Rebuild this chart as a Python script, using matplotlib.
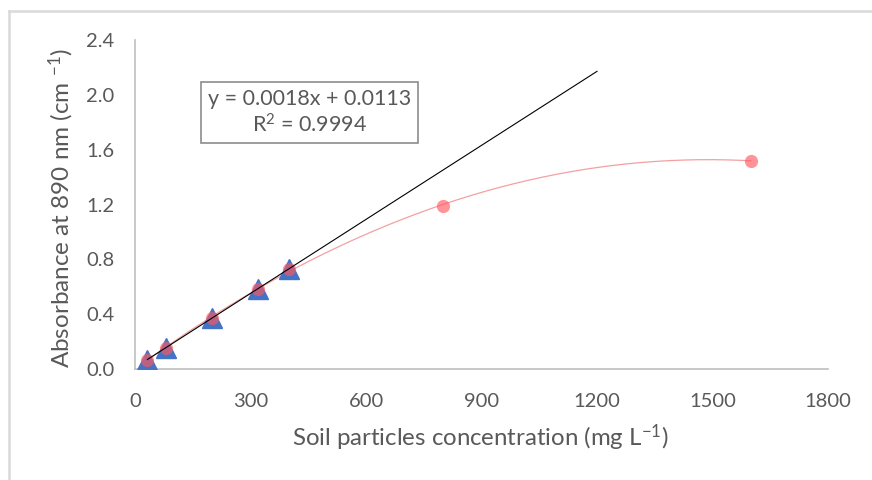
import numpy as np
import matplotlib
matplotlib.use("Agg")
import matplotlib.pyplot as plt
from matplotlib.lines import Line2D

plt.rcParams['font.family'] = ['Lato', 'DejaVu Sans']
plt.rcParams['mathtext.default'] = 'regular'

# Data
conc_lin = [32, 80, 200, 320, 400]
abs_lin = [0.069, 0.155, 0.371, 0.587, 0.731]
conc_all = [32, 80, 200, 320, 400, 800, 1600]
abs_all = [0.069, 0.155, 0.371, 0.587, 0.731, 1.19, 1.52]
slope, intercept = 0.0018, 0.0113
trend_end = 1200
xticks = [0, 300, 600, 900, 1200, 1500, 1800]
yticks = [0.0, 0.4, 0.8, 1.2, 1.6, 2.0, 2.4]

txt = '#595959'
fig = plt.figure(figsize=(8.72, 4.80), dpi=100)
# Chart frame
fig.add_artist(Line2D([8.5/872, 8.5/872], [0, 1 - 10.5/480], color='#d9d9d9', lw=1.8, transform=fig.transFigure))
fig.add_artist(Line2D([8.5/872, 1], [1 - 10.5/480, 1 - 10.5/480], color='#d9d9d9', lw=1.8, transform=fig.transFigure))

ax = fig.add_axes([135/872, 1 - 369/480, 693/872, 329/480])

# Polynomial trendline (red)
coef = np.polyfit(conc_all, abs_all, 2)
xc = np.linspace(min(conc_all), max(conc_all), 300)
ax.plot(xc, np.polyval(coef, xc), color='#f4a0a2', lw=0.9, zorder=2)

# Blue triangles
ax.plot(conc_lin, abs_lin, linestyle='none', marker='^', ms=15, color='#4472c4', zorder=3)
# Red circles
ax.plot(conc_all, abs_all, linestyle='none', marker='o', ms=9.5, color=(1.0, 0.35, 0.38), alpha=0.65, mec='none', zorder=4)

# Linear trendline
xl = np.array([min(conc_lin), trend_end])
ax.plot(xl, slope * xl + intercept, color='black', lw=0.8, zorder=5)

ax.set_xlim(0, 1800)
ax.set_ylim(0, 2.4)
ax.set_xticks(xticks)
ax.set_yticks(yticks)
ax.set_yticklabels([f'{v:.1f}' for v in yticks])
ax.tick_params(length=0, labelsize=14.5, colors=txt)
ax.tick_params(axis='x', pad=17)
ax.tick_params(axis='y', pad=15)
for s in ['top', 'right']:
    ax.spines[s].set_visible(False)
for s in ['left', 'bottom']:
    ax.spines[s].set_color('#bfbfbf')
    ax.spines[s].set_linewidth(1.2)

xlab = ax.set_xlabel('Soil particles concentration (mg L$^{-1}$)', fontsize=17.3, color=txt)
xlab.set_va('baseline')
ax.xaxis.set_label_coords(0.498, -0.234)
ylab = ax.set_ylabel('Absorbance at 890 nm (cm $^{-1}$)', fontsize=17.5, color=txt)
ylab.set_va('center')
ylab.set_ha('center')
ax.yaxis.set_label_coords(-0.1068, 0.489)

ax.text(0.2518, 0.7796, 'y = 0.0018x + 0.0113\nR$^2$ = 0.9994', transform=ax.transAxes,
        ha='center', va='center', fontsize=15.5, color=txt, linespacing=1.2,
        bbox=dict(boxstyle='square,pad=0.32', fc='white', ec='#8c8c8c', lw=1.2), zorder=6)

fig.savefig('out.png', dpi=100)
